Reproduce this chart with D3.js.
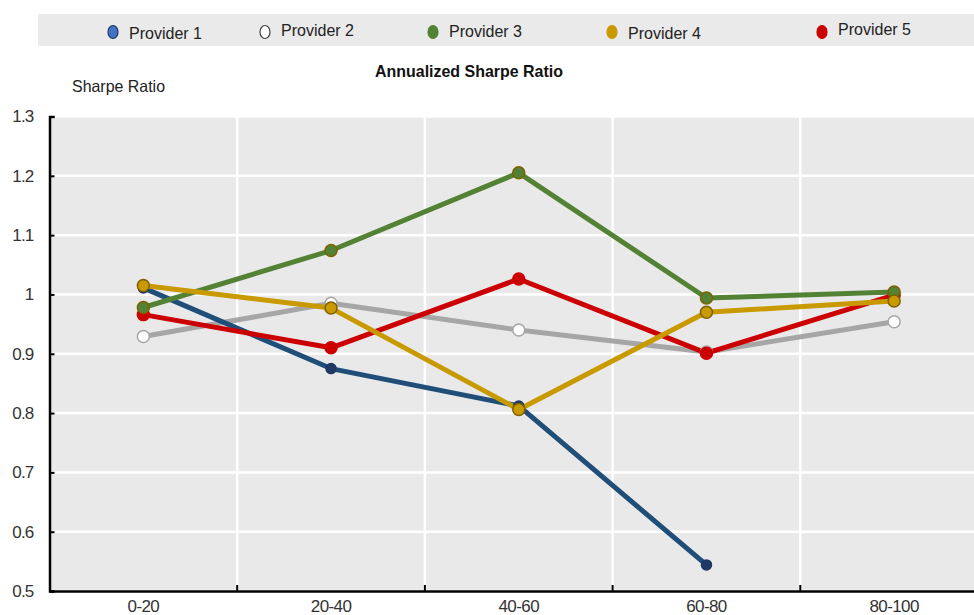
<!DOCTYPE html>
<html><head><meta charset="utf-8">
<script src="https://cdn.jsdelivr.net/npm/d3@7"></script>
<style>body{margin:0;background:#fff;} svg{display:block;font-family:"Liberation Sans",Arial,sans-serif;}</style>
</head><body>
<svg id="c" width="974" height="615"></svg>
<script>
const categories = ["0-20","20-40","40-60","60-80","80-100"];
const yTicks = [0.5,0.6,0.7,0.8,0.9,1,1.1,1.2,1.3];
const provider1 = [1.011,0.875,0.812,0.544,null];
const provider2 = [0.929,0.985,0.940,0.903,0.954];
const provider3 = [0.978,1.074,1.205,0.994,1.004];
const provider4 = [1.015,0.977,0.806,0.970,0.989];
const provider5 = [0.966,0.910,1.026,0.901,0.999];
const seriesNames = ["Provider 1","Provider 2","Provider 3","Provider 4","Provider 5"];

(function(){
const series = [
  {name:"Provider 2", values:provider2, line:"#a6a6a6", fill:"#ffffff", stroke:"#a6a6a6", r:6},
  {name:"Provider 1", values:provider1, line:"#1f4e79", fill:"#1f3864", stroke:"#1f3864", r:5},
  {name:"Provider 5", values:provider5, line:"#cc0000", fill:"#cc0000", stroke:"#cc0000", r:6},
  {name:"Provider 3", values:provider3, line:"#548235", fill:"#548235", stroke:"#7f6000", r:6},
  {name:"Provider 4", values:provider4, line:"#c99a00", fill:"#c99a00", stroke:"#7f6000", r:6}
];
const legendItems = [
  {name:seriesNames[0], fill:"#4472c4", stroke:"#1f3864", x:113, ty:39},
  {name:seriesNames[1], fill:"#ffffff", stroke:"#404040", x:265, ty:36},
  {name:seriesNames[2], fill:"#548235", stroke:"#548235", x:433, ty:37},
  {name:seriesNames[3], fill:"#c99a00", stroke:"#c99a00", x:612, ty:39},
  {name:seriesNames[4], fill:"#cc0000", stroke:"#cc0000", x:822, ty:35}
];

const svg = d3.select("#c");
const pLeft = 49.5, bandW = 187.7, pTop = 116.5, pBottom = 591;
const x = d3.scaleBand().domain(categories).range([pLeft, pLeft + bandW*categories.length]).padding(0);
const y = d3.scaleLinear().domain([0.5,1.3]).range([pBottom, pTop]);

// Legend band
svg.append("rect").attr("x",38).attr("y",14).attr("width",936).attr("height",32).attr("fill","#eaeaea");
const lg = svg.append("g");
legendItems.forEach(d=>{
  lg.append("ellipse").attr("cx",d.x).attr("cy",32).attr("rx",5).attr("ry",6.5)
    .attr("fill",d.fill).attr("stroke",d.stroke).attr("stroke-width",1.2);
  lg.append("text").attr("x",d.x+16).attr("y",d.ty).attr("font-size",16.5).attr("fill","#222")
    .attr("textLength",73).attr("lengthAdjust","spacingAndGlyphs").text(d.name);
});

// Titles
svg.append("text").attr("x",375).attr("y",77).attr("font-size",16.5)
  .attr("font-weight","bold").attr("fill","#111")
  .attr("textLength",188).attr("lengthAdjust","spacingAndGlyphs").text("Annualized Sharpe Ratio");
svg.append("text").attr("x",72).attr("y",92).attr("font-size",16.5).attr("fill","#222")
  .attr("textLength",93).attr("lengthAdjust","spacingAndGlyphs").text("Sharpe Ratio");

// Plot background
svg.append("rect").attr("x",pLeft).attr("y",pTop).attr("width",974-pLeft).attr("height",pBottom-pTop).attr("fill","#e9e9e9");

// Grid
const grid = svg.append("g");
yTicks.forEach(t=>{
  grid.append("line").attr("x1",pLeft).attr("x2",974).attr("y1",y(t)).attr("y2",y(t))
    .attr("stroke","#fff").attr("stroke-width",2.5);
});
categories.forEach((c,i)=>{
  if(i>0) grid.append("line").attr("x1",x(c)).attr("x2",x(c)).attr("y1",pTop).attr("y2",pBottom)
    .attr("stroke","#fff").attr("stroke-width",2.5);
});

// Axes
const yAxis = d3.axisLeft(y).tickValues(yTicks).tickSize(-5).tickPadding(16)
  .tickFormat(d=>d3.format("")(d));
const ga = svg.append("g").attr("transform",`translate(${pLeft},0)`).call(yAxis);
ga.select(".domain").attr("stroke","#000").attr("stroke-width",2.5);
ga.selectAll(".tick line").attr("stroke","#000").attr("stroke-width",2);
ga.selectAll("text").attr("font-size",17).attr("letter-spacing","-0.8px").attr("fill","#333")
  .attr("font-family","Liberation Sans, Arial");

const xAxis = d3.axisBottom(x).tickSize(0).tickPadding(9);
const gx = svg.append("g").attr("transform",`translate(0,${pBottom})`).call(xAxis);
gx.select(".domain").attr("stroke","#000").attr("stroke-width",2.5);
gx.selectAll("text").attr("font-size",17).attr("letter-spacing","-0.6px").attr("fill","#333")
  .attr("font-family","Liberation Sans, Arial");
categories.forEach((c,i)=>{
  if(i>0) svg.append("line").attr("x1",x(c)).attr("x2",x(c)).attr("y1",pBottom).attr("y2",pBottom-6)
    .attr("stroke","#000").attr("stroke-width",2);
});

// Lines
const cx = c => x(c) + x.bandwidth()/2;
const line = d3.line().defined(d=>d.v!=null).x(d=>cx(d.c)).y(d=>y(d.v));
series.forEach(s=>{
  const pts = categories.map((c,i)=>({c, v:s.values[i]}));
  svg.append("path").datum(pts).attr("d",line).attr("fill","none")
    .attr("stroke",s.line).attr("stroke-width",5).attr("stroke-linejoin","round");
});
series.forEach(s=>{
  const pts = categories.map((c,i)=>({c, v:s.values[i]})).filter(d=>d.v!=null);
  svg.append("g").selectAll("circle").data(pts).join("circle")
    .attr("cx",d=>cx(d.c)).attr("cy",d=>y(d.v)).attr("r",s.r)
    .attr("fill",s.fill).attr("stroke",s.stroke).attr("stroke-width",1.5);
});
})();
</script>
</body></html>
